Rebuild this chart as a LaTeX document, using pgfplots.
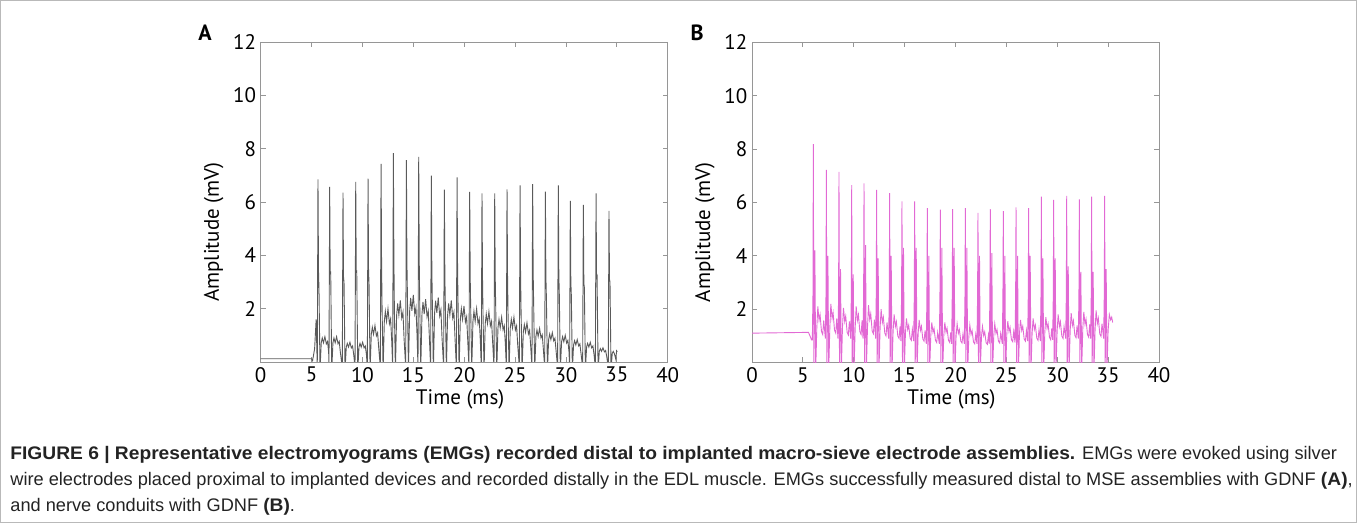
\documentclass[border=0pt]{standalone}
\usepackage{fontspec}
\setmainfont{PT Sans}
\newfontfamily\capfont[BoldFeatures={FakeStretch=1.055}]{Liberation Sans}
\usepackage{pgfplots}
\pgfplotsset{compat=1.18}

\definecolor{axgray}{RGB}{150,150,150}
\definecolor{traceA}{RGB}{90,90,90}
\definecolor{traceB}{RGB}{226,105,212}
\definecolor{captxt}{RGB}{35,35,35}

\pgfplotsset{
  emg/.style={
    scale only axis,
    width=203.5pt, height=160pt,
    anchor=south west,
    xmin=0, xmax=40, ymin=0, ymax=12,
    xtick={0,5,...,40}, ytick={2,4,...,12},
    axis line style={axgray},
    tick style={axgray, line width=0.4pt},
    major tick length=2.5pt,
    tick align=inside,
    ticklabel style={font=\fontsize{10.5}{12}\selectfont},
    label style={font=\fontsize{10.5}{12}\selectfont},
    /pgf/number format/assume math mode=true,
    yticklabel style={xshift=1.2pt},
    xticklabel style={yshift=1pt},
    xlabel={Time (ms)}, ylabel={Amplitude (mV)},
    xlabel style={at={(axis description cs:0.49,0)}, anchor=north, yshift=-10pt},
    ylabel style={at={(ticklabel cs:0.406)}, yshift=-2pt},
    clip=true,
  }
}

\begin{document}
\begin{tikzpicture}
\useasboundingbox (0,0) rectangle (678.5pt,261.5pt);
\draw[gray!55, line width=0.6pt] (0.3pt,0.3pt) rectangle (678.2pt,261.2pt);

% panel A
\begin{axis}[emg, at={(130.35pt,80.5pt)}]
\addplot[traceA, line width=0.45pt] coordinates {
(0,0.12) (5.0,0.12) (5.1,0.05) (5.3,0.5) (5.45,1.6)
(5.56,-0.2) (5.63,6.85) (5.68,3.43) (5.73,2.7) (5.83,-0.3) (5.95,0.72) (6.05,0.9) (6.17,0.72) (6.31,0.95) (6.45,0.68) (6.57,0.77) (6.68,0.36)
(6.71,-0.2) (6.78,6.57) (6.83,3.29) (6.88,3.4) (6.98,-0.3) (7.10,0.72) (7.20,0.9) (7.32,0.72) (7.46,0.95) (7.60,0.68) (7.72,0.77) (7.83,0.36)
(8.02,-0.2) (8.09,6.35) (8.14,3.18) (8.19,3.0) (8.29,-0.3) (8.41,0.56) (8.51,0.7) (8.63,0.56) (8.77,0.74) (8.91,0.53) (9.03,0.6) (9.14,0.28)
(9.27,-0.2) (9.34,6.75) (9.39,3.38) (9.44,3.4) (9.54,-0.3) (9.66,0.56) (9.76,0.7) (9.88,0.56) (10.02,0.74) (10.16,0.53) (10.28,0.6) (10.39,0.28)
(10.48,-0.2) (10.55,6.88) (10.60,3.44) (10.65,2.9) (10.75,-0.3) (10.87,1.04) (10.97,1.3) (11.09,1.04) (11.23,1.37) (11.37,0.98) (11.49,1.1) (11.60,0.52)
(11.76,-0.2) (11.83,7.43) (11.88,3.72) (11.93,2.0) (12.03,-0.3) (12.15,1.52) (12.25,1.9) (12.37,1.52) (12.51,2.0) (12.65,1.43) (12.77,1.62) (12.88,0.76)
(12.97,-0.2) (13.04,7.83) (13.09,3.92) (13.14,1.9) (13.24,-0.3) (13.36,1.76) (13.46,2.2) (13.58,1.76) (13.72,2.31) (13.86,1.65) (13.98,1.87) (14.09,0.88)
(14.25,-0.2) (14.32,7.57) (14.37,3.79) (14.42,2.5) (14.52,-0.3) (14.64,1.92) (14.74,2.4) (14.86,1.92) (15.00,2.52) (15.14,1.8) (15.26,2.04) (15.37,0.96)
(15.46,-0.2) (15.53,7.69) (15.58,3.85) (15.63,2.2) (15.73,-0.3) (15.85,1.8) (15.95,2.25) (16.07,1.8) (16.21,2.36) (16.35,1.69) (16.47,1.91) (16.58,0.9)
(16.70,-0.2) (16.77,6.99) (16.82,3.5) (16.87,2.2) (16.97,-0.3) (17.09,1.84) (17.19,2.3) (17.31,1.84) (17.45,2.42) (17.59,1.73) (17.71,1.96) (17.82,0.92)
(17.98,-0.2) (18.05,6.46) (18.10,3.23) (18.15,2.1) (18.25,-0.3) (18.37,1.76) (18.47,2.2) (18.59,1.76) (18.73,2.31) (18.87,1.65) (18.99,1.87) (19.10,0.88)
(19.23,-0.2) (19.30,6.92) (19.35,3.46) (19.40,2.1) (19.50,-0.3) (19.62,1.6) (19.72,2.0) (19.84,1.6) (19.98,2.1) (20.12,1.5) (20.24,1.7) (20.35,0.8)
(20.47,-0.2) (20.54,6.38) (20.59,3.19) (20.64,2.0) (20.74,-0.3) (20.86,1.52) (20.96,1.9) (21.08,1.52) (21.22,2.0) (21.36,1.43) (21.48,1.62) (21.59,0.76)
(21.68,-0.2) (21.75,6.32) (21.80,3.16) (21.85,1.8) (21.95,-0.3) (22.07,1.44) (22.17,1.8) (22.29,1.44) (22.43,1.89) (22.57,1.35) (22.69,1.53) (22.80,0.72)
(22.93,-0.2) (23.00,6.32) (23.05,3.16) (23.10,2.0) (23.20,-0.3) (23.32,1.28) (23.42,1.6) (23.54,1.28) (23.68,1.68) (23.82,1.2) (23.94,1.36) (24.05,0.64)
(24.14,-0.2) (24.21,6.47) (24.26,3.24) (24.31,1.8) (24.41,-0.3) (24.53,1.28) (24.63,1.6) (24.75,1.28) (24.89,1.68) (25.03,1.2) (25.15,1.36) (25.26,0.64)
(25.42,-0.2) (25.49,6.62) (25.54,3.31) (25.59,1.9) (25.69,-0.3) (25.81,1.12) (25.91,1.4) (26.03,1.12) (26.17,1.47) (26.31,1.05) (26.43,1.19) (26.54,0.56)
(26.66,-0.2) (26.73,6.67) (26.78,3.34) (26.83,2.1) (26.93,-0.3) (27.05,0.96) (27.15,1.2) (27.27,0.96) (27.41,1.26) (27.55,0.9) (27.67,1.02) (27.78,0.48)
(27.91,-0.2) (27.98,6.39) (28.03,3.2) (28.08,2.4) (28.18,-0.3) (28.30,0.84) (28.40,1.05) (28.52,0.84) (28.66,1.1) (28.80,0.79) (28.92,0.89) (29.03,0.42)
(29.18,-0.2) (29.25,6.62) (29.30,3.31) (29.35,2.5) (29.45,-0.3) (29.57,0.76) (29.67,0.95) (29.79,0.76) (29.93,1.0) (30.07,0.71) (30.19,0.81) (30.30,0.38)
(30.36,-0.2) (30.43,6.04) (30.48,3.02) (30.53,2.5) (30.63,-0.3) (30.75,0.64) (30.85,0.8) (30.97,0.64) (31.11,0.84) (31.25,0.6) (31.37,0.68) (31.48,0.32)
(31.64,-0.2) (31.71,5.89) (31.76,2.95) (31.81,2.8) (31.91,-0.3) (32.03,0.56) (32.13,0.7) (32.25,0.56) (32.39,0.74) (32.53,0.53) (32.65,0.6) (32.76,0.28)
(32.89,-0.2) (32.96,6.32) (33.01,3.16) (33.06,3.2) (33.16,-0.3) (33.28,0.4) (33.38,0.5) (33.50,0.4) (33.64,0.53) (33.78,0.38) (33.90,0.43) (34.01,0.2)
(34.16,-0.2) (34.23,5.67) (34.28,3.1) (34.33,3.0) (34.43,-0.3) (34.55,0.32) (34.65,0.4) (34.77,0.3) (34.90,0.1) (34.98,0.42) (35.05,0.38)
};
\end{axis}

% panel B
\begin{axis}[emg, at={(376pt,80.25pt)}]
\addplot[traceB, line width=0.45pt] coordinates {
(0,1.1) (5.55,1.13) (5.75,0.95) (5.85,0.85)
(5.93,0.85) (5.99,2.5) (6.03,8.19) (6.08,-0.3) (6.18,4.2) (6.26,-0.3) (6.37,1.3) (6.47,2.1) (6.59,1.58) (6.69,1.79) (6.83,1.16) (6.95,1.05) (7.05,1.58)
(7.21,0.9) (7.27,2.5) (7.31,7.22) (7.36,-0.3) (7.46,4.0) (7.54,-0.3) (7.65,1.3) (7.75,2.2) (7.87,1.65) (7.97,1.87) (8.11,1.21) (8.23,1.1) (8.33,1.65)
(8.45,0.9) (8.51,2.5) (8.55,7.15) (8.60,-0.3) (8.70,3.5) (8.78,-0.3) (8.89,1.3) (8.99,2.05) (9.11,1.54) (9.21,1.74) (9.35,1.13) (9.47,1.03) (9.57,1.54)
(9.70,0.9) (9.76,2.5) (9.80,6.65) (9.85,-0.3) (9.95,3.3) (10.03,-0.3) (10.14,1.3) (10.24,2.1) (10.36,1.58) (10.46,1.79) (10.60,1.16) (10.72,1.05) (10.82,1.58)
(10.91,0.9) (10.97,2.5) (11.01,6.72) (11.06,-0.3) (11.16,4.4) (11.24,-0.3) (11.35,1.3) (11.45,2.15) (11.57,1.61) (11.67,1.83) (11.81,1.18) (11.93,1.08) (12.03,1.61)
(12.15,0.9) (12.21,2.5) (12.25,6.47) (12.30,-0.3) (12.40,3.9) (12.48,-0.3) (12.59,1.3) (12.69,2.0) (12.81,1.5) (12.91,1.7) (13.05,1.1) (13.17,1.0) (13.27,1.5)
(13.43,0.9) (13.49,2.5) (13.53,6.35) (13.58,-0.3) (13.68,4.0) (13.76,-0.3) (13.87,1.2) (13.97,1.8) (14.09,1.35) (14.19,1.53) (14.33,0.99) (14.45,0.9) (14.55,1.35)
(14.64,0.8) (14.70,2.5) (14.74,6.04) (14.79,-0.3) (14.89,4.3) (14.97,-0.3) (15.08,1.1) (15.18,1.65) (15.30,1.24) (15.40,1.4) (15.54,0.91) (15.66,0.83) (15.76,1.24)
(15.89,0.8) (15.95,2.5) (15.99,6.04) (16.04,-0.3) (16.14,4.3) (16.22,-0.3) (16.33,1.1) (16.43,1.6) (16.55,1.2) (16.65,1.36) (16.79,0.88) (16.91,0.8) (17.01,1.2)
(17.13,0.7) (17.19,2.5) (17.23,5.79) (17.28,-0.3) (17.38,4.0) (17.46,-0.3) (17.57,1.0) (17.67,1.5) (17.79,1.13) (17.89,1.28) (18.03,0.83) (18.15,0.75) (18.25,1.13)
(18.41,0.7) (18.47,2.5) (18.51,5.73) (18.56,-0.3) (18.66,4.3) (18.74,-0.3) (18.85,1.0) (18.95,1.5) (19.07,1.13) (19.17,1.28) (19.31,0.83) (19.43,0.75) (19.53,1.13)
(19.62,0.7) (19.68,2.5) (19.72,5.75) (19.77,-0.3) (19.87,4.3) (19.95,-0.3) (20.06,1.0) (20.16,1.45) (20.28,1.09) (20.38,1.23) (20.52,0.8) (20.64,0.73) (20.74,1.09)
(20.87,0.7) (20.93,2.5) (20.97,5.79) (21.02,-0.3) (21.12,4.3) (21.20,-0.3) (21.31,0.95) (21.41,1.4) (21.53,1.05) (21.63,1.19) (21.77,0.77) (21.89,0.7) (21.99,1.05)
(22.11,0.7) (22.17,2.5) (22.21,5.61) (22.26,-0.3) (22.36,4.0) (22.44,-0.3) (22.55,0.95) (22.65,1.35) (22.77,1.01) (22.87,1.15) (23.01,0.74) (23.13,0.68) (23.23,1.01)
(23.32,0.7) (23.38,2.5) (23.42,5.75) (23.47,-0.3) (23.57,4.1) (23.65,-0.3) (23.76,1.0) (23.86,1.45) (23.98,1.09) (24.08,1.23) (24.22,0.8) (24.34,0.73) (24.44,1.09)
(24.60,0.7) (24.66,2.5) (24.70,5.68) (24.75,-0.3) (24.85,4.0) (24.93,-0.3) (25.04,1.05) (25.14,1.55) (25.26,1.16) (25.36,1.32) (25.50,0.85) (25.62,0.78) (25.72,1.16)
(25.85,0.75) (25.91,2.5) (25.95,5.82) (26.00,-0.3) (26.10,4.0) (26.18,-0.3) (26.29,1.1) (26.39,1.6) (26.51,1.2) (26.61,1.36) (26.75,0.88) (26.87,0.8) (26.97,1.2)
(27.09,0.8) (27.15,2.5) (27.19,5.79) (27.24,-0.3) (27.34,4.0) (27.42,-0.3) (27.53,1.1) (27.63,1.65) (27.75,1.24) (27.85,1.4) (27.99,0.91) (28.11,0.83) (28.21,1.24)
(28.34,0.8) (28.40,2.5) (28.44,6.22) (28.49,-0.3) (28.59,3.9) (28.67,-0.3) (28.78,1.15) (28.88,1.7) (29.00,1.28) (29.10,1.45) (29.24,0.94) (29.36,0.85) (29.46,1.28)
(29.55,0.85) (29.61,2.5) (29.65,6.10) (29.70,-0.3) (29.80,3.9) (29.88,-0.3) (29.99,1.2) (30.09,1.8) (30.21,1.35) (30.31,1.53) (30.45,0.99) (30.57,0.9) (30.67,1.35)
(30.83,0.9) (30.89,2.5) (30.93,6.25) (30.98,-0.3) (31.08,3.6) (31.16,-0.3) (31.27,1.2) (31.37,1.85) (31.49,1.39) (31.59,1.57) (31.73,1.02) (31.85,0.93) (31.95,1.39)
(32.07,0.9) (32.13,2.5) (32.17,6.12) (32.22,-0.3) (32.32,3.4) (32.40,-0.3) (32.51,1.25) (32.61,1.9) (32.73,1.43) (32.83,1.62) (32.97,1.05) (33.09,0.95) (33.19,1.43)
(33.28,0.9) (33.34,2.5) (33.38,6.22) (33.43,-0.3) (33.53,3.4) (33.61,-0.3) (33.72,1.25) (33.82,1.95) (33.94,1.46) (34.04,1.66) (34.18,1.07) (34.30,0.98) (34.40,1.46)
(34.56,0.9) (34.62,2.5) (34.66,6.25) (34.71,-0.3) (34.81,3.5) (34.89,-0.3) (35.00,1.2) (35.12,1.8) (35.25,1.6) (35.35,1.7) (35.45,1.5)
};
\end{axis}

\node[font=\fontsize{11}{13}\selectfont\bfseries] at (102.5pt,245pt) {A};
\node[font=\fontsize{11}{13}\selectfont\bfseries] at (348.5pt,245pt) {B};

\node[anchor=north west, inner sep=0pt, align=left, text=captxt,
      font=\capfont\fontsize{9.1}{13}\selectfont] at (5pt,38.5pt)
{\textbf{FIGURE 6 | Representative electromyograms (EMGs) recorded distal to implanted macro-sieve electrode assemblies.} EMGs were evoked using silver\\
wire electrodes placed proximal to implanted devices and recorded distally in the EDL muscle. EMGs successfully measured distal to MSE assemblies with GDNF \textbf{(A)},\\
and nerve conduits with GDNF \textbf{(B)}.};
\end{tikzpicture}
\end{document}
